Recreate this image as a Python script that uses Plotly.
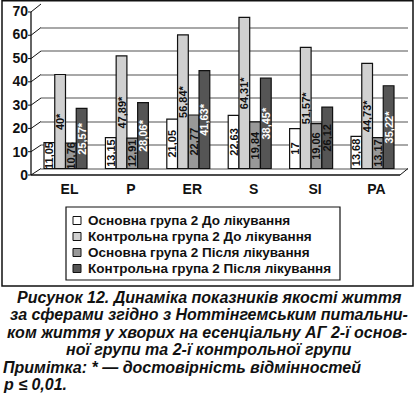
import plotly.graph_objects as go

# ---------------- data ----------------
categories = ["EL", "P", "ER", "S", "SI", "PA"]
series_names = [
    "Основна група 2 До лікування",
    "Контрольна група 2 До лікування",
    "Основна група 2 Після лікування",
    "Контрольна група 2 Після лікування",
]
main_before = [11.05, 13.15, 21.05, 22.63, 17, 13.68]
control_before = [40, 47.89, 56.84, 64.31, 51.57, 44.73]
main_after = [10.76, 12.91, 22.77, 19.84, 19.06, 13.17]
control_after = [25.57, 28.06, 41.63, 38.45, 26.12, 35.22]
# significance (*) flags
sig_main_before = [False] * 6
sig_control_before = [True] * 6
sig_main_after = [False] * 6
sig_control_after = [True, True, True, True, False, True]
y_ticks = [0, 10, 20, 30, 40, 50, 60, 70]

caption_lines = [
    "Рисунок 12. Динаміка показників якості життя",
    "за сферами згідно з Ноттінгемським питальни-",
    "ком життя у хворих на есенціальну АГ 2-ї основ-",
    "ної групи та 2-ї контрольної групи",
    "Примітка: * — достовірність відмінностей",
    "p ≤ 0,01.",
]

# ---------------- styling ----------------
colors = ["#ffffff", "#d0d0d0", "#989898", "#555555"]
FONT = "Liberation Sans, Arial, sans-serif"

# plot-area pixel geometry
L, R, T, B = 41, 408, 4, 175
W, H = R - L, B - T


def px(x):
    return (x - L) / W


def py(y):
    return (B - y) / H


def fmt(v, star):
    s = f"{v:g}".replace(".", ",")
    return s + ("*" if star else "")


values = [main_before, control_before, main_after, control_after]
stars = [sig_main_before, sig_control_before, sig_main_after, sig_control_after]

fig = go.Figure()
for i, (name, vals, st) in enumerate(zip(series_names, values, stars)):
    if i == 3:
        tcol = ["#ffffff" if s else "#111111" for s in st]
    else:
        tcol = ["#111111"] * len(vals)
    fig.add_trace(go.Bar(
        x=categories, y=vals, name=name,
        marker=dict(color=colors[i], line=dict(color="#111111", width=1.2)),
        text=[fmt(v, s) for v, s in zip(vals, st)],
        textposition="inside", insidetextanchor="middle", textangle=-90,
        constraintext="none",
        textfont=dict(family=FONT, size=11, color=tcol, weight="bold"),
        showlegend=False,
    ))

shapes = []
# back-wall gridline at 30 is dark in the original
shapes.append(dict(type="line", xref="paper", yref="y", x0=0, x1=1, y0=30, y1=30,
                   line=dict(color="#111111", width=1.3), layer="below"))
# front axis and perspective connectors (decoration)
shapes.append(dict(type="line", xref="paper", yref="paper", x0=px(31), x1=px(31),
                   y0=py(175), y1=py(12), line=dict(color="#111111", width=1.3)))
for v in y_ticks:
    yf = 175 - 2.329 * v
    yb = 168.5 - 2.35 * v
    shapes.append(dict(type="line", xref="paper", yref="paper", x0=px(31), x1=px(41),
                       y0=py(yf), y1=py(yb), line=dict(color="#111111", width=1)))
    shapes.append(dict(type="line", xref="paper", yref="paper", x0=px(28), x1=px(31),
                       y0=py(yf), y1=py(yf), line=dict(color="#111111", width=1)))
# floor front edge and right edge
shapes.append(dict(type="line", xref="paper", yref="paper", x0=px(31), x1=px(400),
                   y0=py(175), y1=py(175), line=dict(color="#111111", width=1.5)))
shapes.append(dict(type="line", xref="paper", yref="paper", x0=px(400), x1=px(408),
                   y0=py(175), y1=py(168.5), line=dict(color="#111111", width=1)))
# outer frame
shapes.append(dict(type="rect", xref="paper", yref="paper", x0=px(2), x1=px(413),
                   y0=py(286), y1=py(0.8), line=dict(color="#111111", width=1.5)))
# legend box
shapes.append(dict(type="rect", xref="paper", yref="paper", x0=px(66), x1=px(340),
                   y0=py(280), y1=py(207), line=dict(color="#111111", width=1.2)))

annotations = []
row_y = [220.5, 236.5, 252.5, 268.5]
for i, name in enumerate(series_names):
    yc = row_y[i]
    shapes.append(dict(type="rect", xref="paper", yref="paper", x0=px(73), x1=px(81),
                       y0=py(yc + 4), y1=py(yc - 4),
                       fillcolor=colors[i], line=dict(color="#111111", width=1)))
    annotations.append(dict(text=name, xref="paper", yref="paper", x=px(86), y=py(yc),
                            xanchor="left", yanchor="middle", showarrow=False,
                            font=dict(family=FONT, size=13.5, color="#111111", weight="bold")))

cap_y = [297, 314.5, 332, 349.5, 367, 384.5]
cap_x = [209, 208.5, 206.5, 208.5, 1, 1]
for i, line in enumerate(caption_lines):
    annotations.append(dict(text=line, xref="paper", yref="paper", x=px(cap_x[i]), y=py(cap_y[i]),
                            xanchor="center" if i < 4 else "left", yanchor="middle",
                            showarrow=False,
                            font=dict(family=FONT, size=16, color="#111111", weight="bold",
                                      style="italic")))

fig.update_layout(
    width=416, height=399,
    margin=dict(l=L, r=416 - R, t=T, b=399 - B, pad=0, autoexpand=False),
    paper_bgcolor="white", plot_bgcolor="white",
    barmode="group", bargap=0.30, bargroupgap=0,
    uniformtext=dict(minsize=11, mode="show"),
    showlegend=False,
    shapes=shapes, annotations=annotations,
    xaxis=dict(range=[-0.399, 5.578], showgrid=False, zeroline=False, showline=False,
               ticks="", ticklabelstandoff=4, ticklabelshift=4, automargin=False,
               tickfont=dict(family=FONT, size=14, color="#111111", weight="bold")),
    yaxis=dict(range=[-2.766, 70], tickvals=y_ticks, showgrid=True,
               gridcolor="#a8a8a8", gridwidth=1.8, zeroline=False, showline=False,
               ticks="", ticklabelstandoff=12, ticklabelshift=7, automargin=False,
               tickfont=dict(family=FONT, size=14, color="#111111", weight="bold")),
)

fig.write_html(
    "out.html",
    config={"displayModeBar": False},
    post_script="document.body.style.margin='0';document.body.style.overflow='hidden';",
)
